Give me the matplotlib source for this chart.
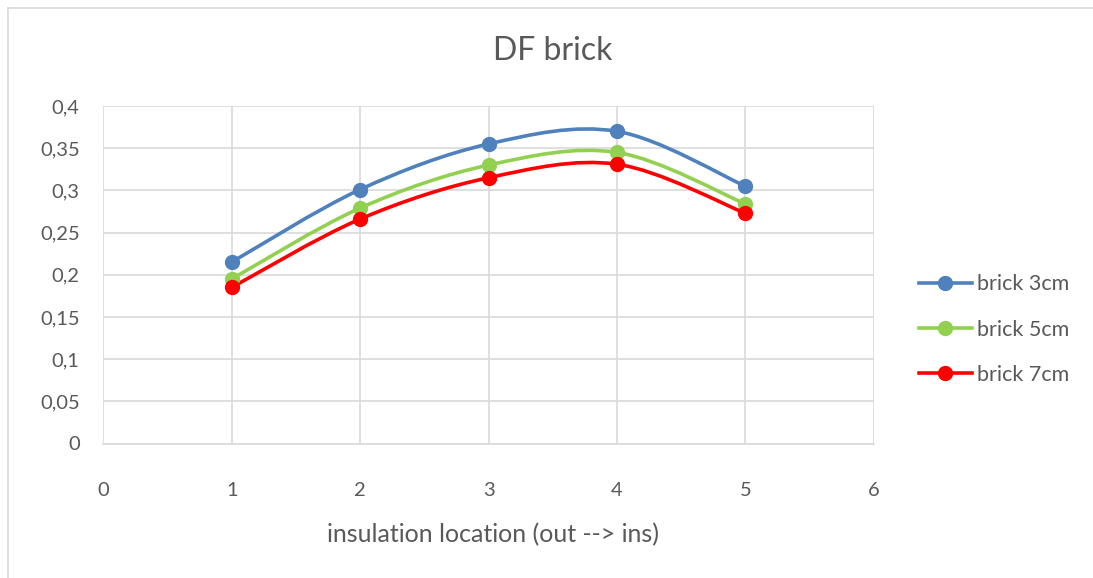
import matplotlib
matplotlib.use("Agg")
import matplotlib.pyplot as plt
from matplotlib.path import Path
from matplotlib.patches import PathPatch
from matplotlib.lines import Line2D

# ---- data ----
x_vals = [1, 2, 3, 4, 5]
brick_3cm = [0.215, 0.301, 0.355, 0.370, 0.305]
brick_5cm = [0.195, 0.279, 0.330, 0.345, 0.284]
brick_7cm = [0.185, 0.266, 0.315, 0.331, 0.273]
series_names = ["brick 3cm", "brick 5cm", "brick 7cm"]
series_colors = ["#4f81bd", "#92d050", "#ff0000"]
y_ticks = [0, 0.05, 0.1, 0.15, 0.2, 0.25, 0.3, 0.35, 0.4]
x_ticks = [0, 1, 2, 3, 4, 5, 6]
title = "DF brick"
xlabel = "insulation location (out --> ins)"

FONT = ["Lato", "DejaVu Sans"]
TXT = "#595959"
GRID = "#d9d9d9"

plt.rcParams["font.family"] = FONT

fig = plt.figure(figsize=(10.93, 5.78), dpi=100)
ax = fig.add_axes([103.3 / 1093, 1 - 443.5 / 578, (873.7 - 103.3) / 1093, (443.5 - 106) / 578])


def smooth_path(xs, ys):
    # Excel-like smoothed line: cubic Bezier with control points from neighbours
    n = len(xs)
    verts = [(xs[0], ys[0])]
    codes = [Path.MOVETO]
    for i in range(n - 1):
        xp, yp = (xs[i - 1], ys[i - 1]) if i > 0 else (xs[i], ys[i])
        xn2, yn2 = (xs[i + 2], ys[i + 2]) if i + 2 < n else (xs[i + 1], ys[i + 1])
        c1 = (xs[i] + (xs[i + 1] - xp) / 6, ys[i] + (ys[i + 1] - yp) / 6)
        c2 = (xs[i + 1] - (xn2 - xs[i]) / 6, ys[i + 1] - (yn2 - ys[i]) / 6)
        verts += [c1, c2, (xs[i + 1], ys[i + 1])]
        codes += [Path.CURVE4] * 3
    return Path(verts, codes)


LW = 2.6
handles = []
for ys, name, col in zip([brick_3cm, brick_5cm, brick_7cm], series_names, series_colors):
    patch = PathPatch(smooth_path(x_vals, ys), facecolor="none", edgecolor=col,
                      lw=LW, zorder=3, capstyle="round", joinstyle="round")
    ax.add_patch(patch)
    ax.plot(x_vals, ys, linestyle="none", marker="o", markersize=10,
            color=col, zorder=4)
    handles.append(Line2D([], [], color=col, lw=LW, marker="o", markersize=10))

ax.set_xlim(0, 6)
ax.set_ylim(0, 0.4)
ax.set_xticks(x_ticks)
ax.set_yticks(y_ticks)
ax.set_xticklabels([str(v) for v in x_ticks])
ax.set_yticklabels([("%g" % v).replace(".", ",") for v in y_ticks])
ax.grid(True, color=GRID, lw=1.2, zorder=0)
ax.set_axisbelow(True)
for s in ["top", "right", "left"]:
    ax.spines[s].set_visible(False)
ax.spines["bottom"].set_color(GRID)
ax.spines["bottom"].set_linewidth(1.2)
ax.tick_params(axis="both", length=0, colors=TXT, labelsize=14.5)
ax.tick_params(axis="x", pad=28)
ax.tick_params(axis="y", pad=17)

fig.text(553 / 1093, 1 - 51 / 578, title, ha="center", va="center",
         fontsize=23, color=TXT)
fig.text(493 / 1093, 1 - 535 / 578, xlabel, ha="center", va="center",
         fontsize=18, color=TXT)

leg = fig.legend(handles, series_names, loc="center left",
                 bbox_to_anchor=(919 / 1093, 1 - 329.5 / 578),
                 frameon=False, fontsize=15.5, handlelength=2.45,
                 handletextpad=0.25, labelspacing=1.17,
                 borderpad=0, borderaxespad=0)
for t in leg.get_texts():
    t.set_color(TXT)

# chart border (left and top visible)
fig.add_artist(Line2D([7.5 / 1093, 7.5 / 1093], [0, 1 - 7.5 / 578],
                      transform=fig.transFigure, color=GRID, lw=1.2))
fig.add_artist(Line2D([7.5 / 1093, 1], [1 - 7.5 / 578, 1 - 7.5 / 578],
                      transform=fig.transFigure, color=GRID, lw=1.2))

fig.savefig("out.png", dpi=100, facecolor="white")
